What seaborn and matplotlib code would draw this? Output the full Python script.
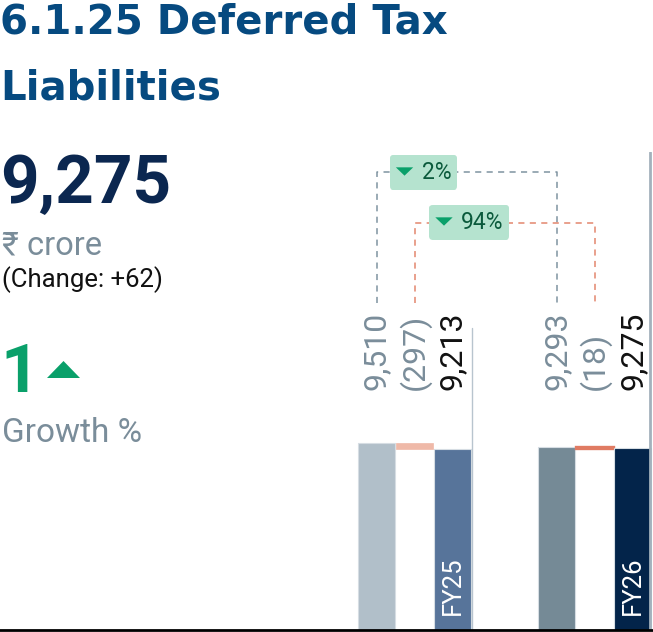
import pandas as pd
import numpy as np
import matplotlib
matplotlib.use("Agg")
import matplotlib.pyplot as plt
from matplotlib.offsetbox import AnnotationBbox, HPacker, TextArea, DrawingArea
from matplotlib.patches import Polygon
import seaborn as sns

sns.set_style("white")
plt.rcParams['font.family'] = ['Roboto', 'DejaVu Sans']

# --- data ---
steps = ["FY25 opening", "FY25 change", "FY25", "FY26 opening", "FY26 change", "FY26"]
values = [9510, 297, 9213, 9293, 18, 9275]
bases = [0, 9213, 0, 0, 9275, 0]
labels = ["9,510", "(297)", "9,213", "9,293", "(18)", "9,275"]
year_labels = {2: "FY25", 5: "FY26"}
bar_colors = ["#b1bfc9", "#efb9a8", "#57749a", "#758a96", "#e07b63", "#03244a"]
label_colors = ["#7a8d9a", "#7a8d9a", "#111111", "#7a8d9a", "#7a8d9a", "#111111"]
pct_changes = ["2%", "94%"]
positions = [0, 1, 2, 4.74, 5.74, 6.74]

W, H = 653, 632
YMAX = 24309
fig = plt.figure(figsize=(W / 100, H / 100), dpi=100)
ax = fig.add_axes([0, 2 / H, 1, 478 / H])

df = pd.DataFrame({"pos": positions, "value": values, "step": steps})
sns.barplot(data=df, x="pos", y="value", native_scale=True, width=0.97, color=bar_colors[0],
            saturation=1, errorbar=None, bottom=bases, ax=ax, linewidth=0.8, edgecolor="#d6dde3")
for patch, c in zip(ax.patches, bar_colors):
    patch.set_facecolor(c)
# tiny change bar: give it a same-colour outline so it stays visible
ax.patches[4].set_edgecolor(bar_colors[4])
ax.patches[4].set_linewidth(2.4)
ax.patches[1].set_edgecolor(bar_colors[1])
ax.patches[1].set_linewidth(0.5)

ax.set_xlim(-9.908, 7.276)
ax.set_ylim(0, YMAX)
ax.set_xticks([])
ax.set_yticks([])
ax.set_xlabel("")
ax.set_ylabel("")
for s in ["top", "left", "right"]:
    ax.spines[s].set_visible(False)
ax.spines["bottom"].set_color("black")
ax.spines["bottom"].set_linewidth(2)


def py(y):
    return (630 - y) / 478 * YMAX


def px(x):
    return x / 38 - 9.908


# separators
ax.plot([2.5, 2.5], [0, py(328)], color="#b8c4ce", lw=1, zorder=1)
ax.axvline(px(650), color="#a3b1bc", lw=2, zorder=1)

# value labels
for i, (p, lab) in enumerate(zip(positions, labels)):
    ax.text(p, py(390), lab, rotation=90, rotation_mode="anchor", ha="left", va="center",
            fontsize=23, color=label_colors[i])
for i, lab in year_labels.items():
    ax.text(positions[i], py(615), lab, rotation=90, rotation_mode="anchor", ha="left",
            va="center", fontsize=18.5, color="white")

# change brackets
bracket_specs = [(0, 3, py(172.3), "#7f93a0", (423.5, 172.2)),
                 (1, 4, py(222.7), "#e3866d", (469.4, 222.2))]
for (a, b, yb, col, (bx, by)), pct in zip(bracket_specs, pct_changes):
    ax.plot([positions[a], positions[a], positions[b], positions[b]],
            [py(303), yb, yb, py(303)], color=col, lw=1.1, dashes=(4, 3.5), zorder=2)
    tri = DrawingArea(12.5, 10)
    tri.add_artist(Polygon([[0, 8.5], [12.5, 8.5], [6.25, 2.5]], closed=True,
                           facecolor="#0aa06a", edgecolor="none"))
    txt = TextArea(pct, textprops=dict(fontsize=16.5, color="#0b5a3c"))
    pack = HPacker(children=[tri, txt], align="center", pad=0, sep=6)
    ab = AnnotationBbox(pack, (px(bx), py(by)), xycoords="data", frameon=True, pad=0.35,
                        bboxprops=dict(boxstyle="round,pad=0.42,rounding_size=0.25",
                                       fc="#b5e3cf", ec="none"), zorder=5)
    ax.add_artist(ab)


# left panel text
def fy(y):
    return 1 - y / H


title_font = dict(family=["DejaVu Sans"], fontsize=29, fontweight="bold", color="#064a80",
                  va="baseline")
fig.text(0.0, fy(34), "6.1.25 Deferred Tax", **title_font)
fig.text(0.0, fy(100), "Liabilities", **title_font)
fig.text(0.0, fy(203), "9,275", fontsize=48.5, fontweight="bold", color="#0b2750", va="baseline")
fig.text(0.003, fy(255), "₹ crore", fontsize=23.5, color="#7a8d9a", va="baseline")
fig.text(0.003, fy(287), "(Change: +62)", fontsize=18.5, color="#111111", va="baseline")
fig.text(0.0, fy(392), "1", fontsize=48.5, fontweight="bold", color="#0aa06a", va="baseline")
fig.patches.append(Polygon([[47 / W, fy(378)], [80 / W, fy(378)], [63.5 / W, fy(361)]],
                           closed=True, transform=fig.transFigure, facecolor="#0aa06a",
                           edgecolor="none"))
fig.text(0.003, fy(442), "Growth %", fontsize=24, color="#7a8d9a", va="baseline")

fig.savefig("out.png", dpi=100)
